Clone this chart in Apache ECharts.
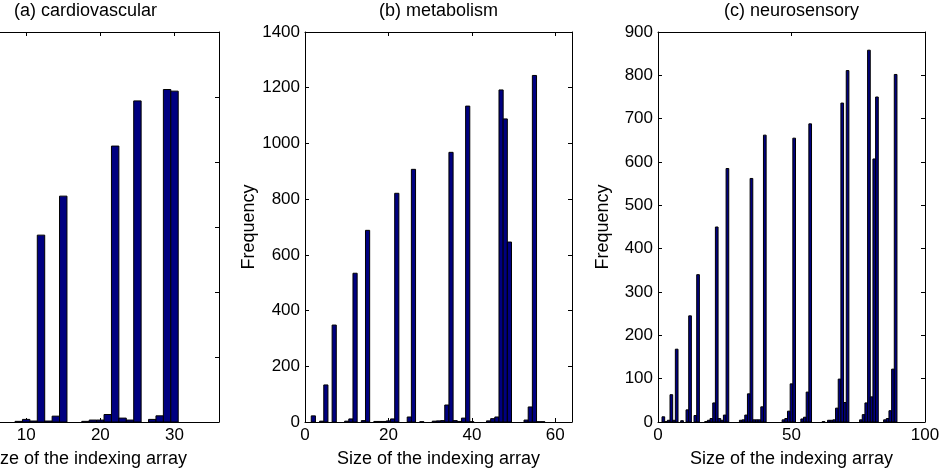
<!DOCTYPE html>
<html>
<head>
<meta charset="utf-8">
<script src="https://cdn.jsdelivr.net/npm/echarts@6/dist/echarts.min.js"></script>
<style>
html,body{margin:0;padding:0;background:#fff;overflow:hidden;}
#chart{width:1005px;height:471px;margin-left:-60px;}
</style>
</head>
<body>
<div id="chart"></div>
<script>
// ---- Data ----
const titles = ['(a) cardiovascular', '(b) metabolism', '(c) neurosensory'];
const xAxisName = 'Size of the indexing array';
const yAxisName = 'Frequency';

const sizesA = [9,10,11,12,13,14,15,18,19,20,21,22,23,24,25,27,28,29,30];
const countsA = [2,8,3,575,3,18,695,2,6,6,23,849,12,6,988,8,19,1023,1018];

const sizesB = [2,4,5,7,10,11,12,14,15,17,18,19,20,21,22,25,26,28,31,32,33,34,35,36,37,38,39,40,44,45,46,47,48,49,53,54,55,56,57];
const countsB = [22,3,133,348,3,11,534,5,688,2,2,2,4,11,821,18,907,1,3,4,5,61,968,5,2,14,1134,1,4,12,18,1192,1088,646,7,54,1244,1,1];

const sizesC = [2,3,4,5,6,7,9,11,12,14,15,18,19,20,21,22,23,24,25,26,31,32,33,34,35,36,37,38,39,40,47,48,49,50,51,54,55,56,57,62,64,65,66,67,68,69,70,71,76,77,78,79,80,81,82,85,86,87,88,89];
const countsC = [12,1,4,63,4,168,3,28,245,15,340,1,4,8,44,450,8,4,16,585,4,5,16,65,562,5,5,5,35,662,5,8,25,88,655,7,11,69,688,1,4,4,5,32,99,736,45,811,5,17,44,858,58,607,750,5,8,26,122,802];

// axis ranges: [min, max, step]
const xRanges = [[0,36,10],[0,64,20],[0,100,50]];
const yRanges = [[0,1200,200],[0,1400,200],[0,900,100]];

// ---- Layout (container is shifted 60px left so panel (a) is cropped) ----
const shift = 60;
const gridLefts = [-48 + shift, 305 + shift, 658 + shift];
const gridTop = 32, gridW = 267, gridH = 390;
const font = '"Liberation Sans", Arial, Helvetica, sans-serif';

const panels = [[sizesA,countsA],[sizesB,countsB],[sizesC,countsC]];

function renderItem(params, api){
  const x = api.value(0), v = api.value(1);
  const p0 = api.coord([x-0.5, v]);
  const p1 = api.coord([x+0.5, 0]);
  return {
    type:'rect',
    shape:{x:p0[0], y:p0[1], width:p1[0]-p0[0], height:p1[1]-p0[1]},
    style:{fill:'#000080', stroke:'#000000', lineWidth:1}
  };
}
const plain = v => String(v);

const grid=[], xAxis=[], yAxis=[], series=[], title=[];
for (let i=0;i<3;i++){
  grid.push({left:gridLefts[i], top:gridTop, width:gridW, height:gridH, containLabel:false,
    outerBoundsMode:'none'});
  title.push({text:titles[i], left:gridLefts[i]+gridW/2, top:2, textAlign:'center', padding:0,
    textStyle:{fontFamily:font, fontSize:18, fontWeight:'normal', color:'#000'}});
  const xr = xRanges[i], yr = yRanges[i];
  const lineStyle = {color:'#000', width:1};
  xAxis.push({type:'value', gridIndex:i, min:xr[0], max:xr[1], interval:xr[2], position:'bottom',
    name:xAxisName, nameLocation:'middle', nameGap:28,
    nameTextStyle:{fontFamily:font, fontSize:18, color:'#000'},
    axisLine:{show:true, onZero:false, lineStyle},
    axisTick:{show:true, inside:true, length:4, lineStyle},
    axisLabel:{show:true, margin:5, fontFamily:font, fontSize:17, color:'#000', formatter:plain,
      showMaxLabel: xr[1]%xr[2]===0},
    splitLine:{show:false}});
  xAxis.push({type:'value', gridIndex:i, min:xr[0], max:xr[1], interval:xr[2], position:'top',
    axisLine:{show:true, onZero:false, lineStyle},
    axisTick:{show:true, inside:true, length:4, lineStyle},
    axisLabel:{show:false}, splitLine:{show:false}});
  yAxis.push({type:'value', gridIndex:i, min:yr[0], max:yr[1], interval:yr[2], position:'left',
    name:yAxisName, nameLocation:'middle', nameGap:46,
    nameTextStyle:{fontFamily:font, fontSize:18, color:'#000'},
    axisLine:{show:true, onZero:false, lineStyle},
    axisTick:{show:true, inside:true, length:4, lineStyle},
    axisLabel:{show:true, margin:5, fontFamily:font, fontSize:17, color:'#000', formatter:plain},
    splitLine:{show:false}});
  yAxis.push({type:'value', gridIndex:i, min:yr[0], max:yr[1], interval:yr[2], position:'right',
    axisLine:{show:true, onZero:false, lineStyle},
    axisTick:{show:true, inside:true, length:4, lineStyle},
    axisLabel:{show:false}, splitLine:{show:false}});
  const data = panels[i][0].map((s,k)=>[s, panels[i][1][k]]);
  series.push({type:'custom', xAxisIndex:2*i, yAxisIndex:2*i, renderItem, data,
    encode:{x:0, y:1}, clip:true, silent:true, animation:false});
}

const chart = echarts.init(document.getElementById('chart'), null, {renderer:'canvas'});
chart.setOption({animation:false, backgroundColor:'#fff', title, grid, xAxis, yAxis, series});
</script>
</body>
</html>
